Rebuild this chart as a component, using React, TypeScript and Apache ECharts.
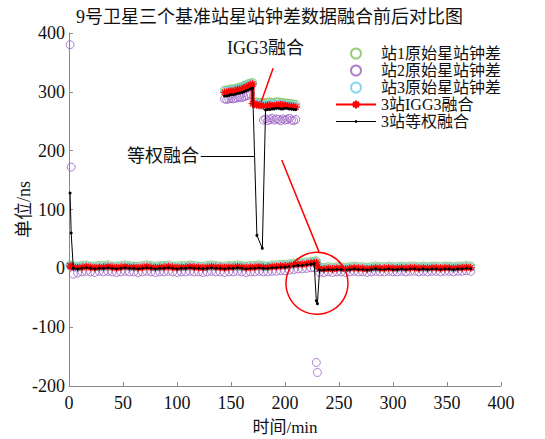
import React, { useEffect, useRef } from "react";
import * as echarts from "echarts";

// ---- data ----
const seriesNames = ["站1原始星站钟差", "站2原始星站钟差", "站3原始星站钟差", "3站IGG3融合", "3站等权融合"];
const xTicks = [0, 50, 100, 150, 200, 250, 300, 350, 400];
const yTicks = [-200, -100, 0, 100, 200, 300, 400];

const times = [
  1, 2, 4, 8, 12, 16, 20, 24, 28, 32,
  36, 40, 44, 48, 52, 56, 60, 64, 68, 72,
  76, 80, 84, 88, 92, 96, 100, 104, 108, 112,
  116, 120, 124, 128, 132, 136, 140, 144, 148, 152,
  156, 160, 164, 168, 172, 176, 180, 184, 188, 192,
  196, 200, 204, 208, 212, 216, 220, 224, 227, 229,
  230, 232, 236, 240, 244, 248, 252, 256, 260, 264,
  268, 272, 276, 280, 284, 288, 292, 296, 300, 304,
  308, 312, 316, 320, 324, 328, 332, 336, 340, 344,
  348, 352, 356, 360, 364, 368, 372,
];

const igg3 = [
  4, 3, 2, 1, 2, 3, 2, 1, 2, 2,
  3, 2, 1, 2, 3, 2, 2, 1, 2, 3,
  2, 1, 2, 2, 3, 2, 1, 2, 2, 3,
  2, 2, 1, 2, 3, 2, 2, 1, 2, 2,
  3, 2, 1, 2, 2, 3, 2, 2, 3, 3,
  4, 4, 5, 6, 7, 7, 8, 9, 9, 10,
  3, -1, -1, 0, -1, 0, 0, -1, 0, 1,
  0, 0, -1, 0, 1, 0, 0, 1, 0, 0,
  1, 0, 1, 1, 0, 1, 0, 1, 1, 0,
  1, 1, 0, 1, 1, 2, 1,
];

const equalW = [
  128, 60, 0, -1, 0, 1, 0, -1, 0, 0,
  1, 0, -1, 0, 1, 0, 0, -1, 0, 1,
  0, -1, 0, 0, 1, 0, -1, 0, 0, 1,
  0, 0, -1, 0, 1, 0, 0, -1, 0, 0,
  1, 0, -1, 0, 0, 1, 0, 0, 1, 1,
  2, 2, 3, 4, 5, 5, 6, 7, 8, -55,
  -60, -3, -3, -2, -3, -2, -2, -3, -2, -1,
  -2, -2, -3, -2, -1, -2, -2, -1, -2, -2,
  -1, -2, -1, -1, -2, -1, -2, -1, -1, -2,
  -1, -1, -2, -1, -1, 0, -1,
];

const st1 = [
  6, 5, 4, 4, 5, 6, 4, 4, 5, 5,
  6, 4, 4, 5, 6, 5, 4, 4, 5, 6,
  5, 4, 5, 5, 6, 4, 4, 5, 5, 6,
  5, 4, 4, 5, 6, 5, 4, 4, 5, 5,
  6, 5, 4, 5, 5, 6, 5, 4, 6, 6,
  7, 7, 8, 9, 10, 10, 11, 12, 12, 13,
  6, 2, 2, 3, 2, 3, 3, 2, 3, 4,
  3, 3, 2, 3, 4, 3, 3, 4, 3, 3,
  4, 3, 4, 4, 3, 4, 3, 4, 4, 3,
  4, 4, 3, 4, 4, 5, 4,
];

const st3 = [
  5, 4, 3, 2, 3, 4, 3, 2, 3, 3,
  4, 3, 2, 3, 4, 3, 3, 2, 3, 4,
  3, 2, 3, 3, 4, 3, 2, 3, 3, 4,
  3, 3, 2, 3, 4, 3, 3, 2, 3, 3,
  4, 3, 2, 3, 3, 4, 3, 3, 4, 4,
  5, 5, 6, 7, 8, 8, 9, 10, 10, 11,
  4, 0, 0, 1, 0, 1, 1, 0, 1, 2,
  1, 1, 0, 1, 2, 1, 1, 2, 1, 1,
  2, 1, 2, 2, 1, 2, 1, 2, 2, 1,
  2, 2, 1, 2, 2, 3, 2,
];

const st2 = [
  380, 172, -10, -8, -6, -5, -6, -7, -5, -6,
  -5, -6, -7, -6, -5, -6, -6, -7, -6, -5,
  -6, -7, -6, -6, -5, -6, -7, -6, -6, -5,
  -6, -6, -7, -6, -5, -6, -6, -7, -6, -6,
  -5, -6, -7, -6, -6, -5, -6, -6, -5, -5,
  -4, -4, -3, -2, -1, -1, 0, 1, 1, -160,
  -177, -7, -7, -6, -7, -6, -6, -7, -6, -5,
  -6, -6, -7, -6, -5, -6, -6, -5, -6, -6,
  -5, -6, -5, -5, -6, -5, -6, -5, -5, -6,
  -5, -5, -6, -5, -5, -4, -5,
];

// ---- magnified inset (drawn in the same axes) ----
const insetTimesA = [144, 146, 148, 150, 152, 154, 156, 158, 160, 162, 164, 166, 168, 170];
const insetTimesB = [172, 174, 176, 178, 180, 182, 184, 186, 188, 190, 192, 194, 196, 198, 200, 202, 204, 206, 208, 210];
const st2InsetTimesA = [144, 146, 148, 150, 152, 154, 156, 158, 160, 162, 164, 166, 168];
const st2InsetTimesB = [180, 182, 184, 186, 188, 190, 192, 194, 196, 198, 200, 202, 204, 206, 208, 210];

const st1InsetA = [303, 303, 304, 305, 305, 306, 307, 308, 309, 311, 312, 314, 315, 316];
const st1InsetB = [282, 283, 282, 282, 281, 282, 282, 283, 282, 282, 283, 283, 282, 282, 281, 281, 280, 280, 279, 279];
const st3InsetA = [301, 301, 302, 303, 303, 304, 305, 306, 307, 309, 310, 312, 313, 314];
const st3InsetB = [280, 280, 279, 279, 278, 278, 278, 279, 279, 278, 278, 279, 279, 279, 278, 278, 277, 277, 276, 276];
const st2InsetA = [288, 287, 288, 289, 288, 289, 290, 291, 290, 292, 293, 294, 296];
const st2InsetB = [252, 254, 251, 253, 255, 252, 254, 253, 251, 254, 252, 253, 255, 252, 251, 253];

const igg3InsetTimes = [144, 146, 148, 150, 152, 154, 156, 158, 160, 162, 164, 166, 168, 170,
  170, 172, 174, 176, 178, 180, 182, 184, 186, 188, 190, 192, 194, 196, 198, 200, 202, 204, 206, 208, 210];
const igg3Inset = [299, 299, 300, 301, 301, 302, 304, 304, 305, 307, 308, 310, 312, 313,
  280, 279, 278, 277, 277, 276, 276, 277, 277, 276, 276, 277, 277, 278, 277, 277, 276, 276, 275, 275, 274];

const eqInsetTimes = [144, 146, 148, 150, 152, 154, 156, 158, 160, 162, 164, 166, 168, 170,
  174, 179, 182, 184, 186, 188, 190, 192, 194, 196, 198, 200, 202, 204, 206, 208, 210];
const eqInset = [293, 293, 294, 295, 295, 296, 297, 298, 299, 300, 302, 303, 305, 306,
  56, 34, 269, 270, 270, 271, 271, 272, 272, 271, 271, 272, 272, 271, 271, 270, 270];

// annotation anchors (data coordinates)
const igg3Pointer = [[189, 340], [178, 283]];
const circlePointer = [[197, 184], [231.5, 28]];
const eqPointer = [[122, 190], [171.5, 190]];
const circleCenter = [229.6, -25.5];

const pairs = (xs: number[], ys: number[]) => xs.map((x, i) => [x, ys[i]]);

const FONT = "'Liberation Serif', 'Times New Roman', 'Noto Sans CJK SC', serif";
const C_GREEN = "#7cc35a";
const C_PURPLE = "#9a5cc2";
const C_CYAN = "#6fcdea";
const C_RED = "#ff0000";
const STAR = "path://M0,5L10,5M5,0L5,10M1.5,1.5L8.5,8.5M8.5,1.5L1.5,8.5";
const EQ_ICON = "path://M0,4.5L40,4.5L40,5.5L0,5.5Z M19,3.8L21,3.8L21,6.2L19,6.2Z";

export default function App() {
  const ref = useRef<HTMLDivElement>(null);
  useEffect(() => {
    if (!ref.current) return;
    const chart = echarts.init(ref.current, undefined, { renderer: "svg" });
    const circleStyle = (c: string) => ({ color: "transparent", borderColor: c, borderWidth: 1 });
    const scatter = (name: string, c: string, data: any[]) => ({
      name,
      type: "scatter",
      symbol: "circle",
      symbolSize: 8,
      itemStyle: circleStyle(c),
      data,
      z: 2,
    });
    chart.setOption({
      animation: false,
      textStyle: { fontFamily: FONT },
      title: {
        text: "9号卫星三个基准站星站钟差数据融合前后对比图",
        left: 71,
        top: 3,
        textStyle: { fontFamily: FONT, fontSize: 18, fontWeight: "normal", color: "#111" },
      },
      legend: {
        orient: "vertical",
        left: 335,
        top: 45,
        itemWidth: 40,
        itemHeight: 10,
        itemGap: 0,
        padding: 0,
        data: [
          seriesNames[0],
          seriesNames[1],
          seriesNames[2],
          seriesNames[3],
          { name: seriesNames[4], icon: EQ_ICON },
        ],
        textStyle: { fontFamily: FONT, fontSize: 16, color: "#111", lineHeight: 17, height: 17 },
      },
      grid: { left: 69, right: 44, top: 33, bottom: 53, outerBoundsMode: "none", containLabel: false },
      xAxis: {
        type: "value",
        min: 0,
        max: 400,
        interval: 50,
        name: "时间/min",
        nameLocation: "middle",
        nameGap: 33,
        nameMoveOverlap: false,
        nameTextStyle: { fontFamily: FONT, fontSize: 17, color: "#111" },
        axisLine: { onZero: false, lineStyle: { color: "#888" } },
        axisTick: { inside: true, length: 4, lineStyle: { color: "#888" } },
        axisLabel: { fontFamily: FONT, fontSize: 18, color: "#111", margin: 8,
          formatter: (v: number) => (xTicks.includes(v) ? String(v) : "") },
        splitLine: { show: false },
      },
      yAxis: {
        type: "value",
        min: -200,
        max: 400,
        interval: 100,
        name: "单位/ns",
        nameLocation: "middle",
        nameGap: 36,
        nameMoveOverlap: false,
        nameTextStyle: { fontFamily: FONT, fontSize: 18, color: "#111" },
        axisLine: { show: true, onZero: false, lineStyle: { color: "#888" } },
        axisTick: { show: true, inside: true, length: 4, lineStyle: { color: "#888" } },
        axisLabel: { fontFamily: FONT, fontSize: 18, color: "#111", margin: 4,
          formatter: (v: number) => (yTicks.includes(v) ? String(v) : "") },
        splitLine: { show: false },
      },
      graphic: [
        { type: "text", left: 227, top: 39, style: { text: "IGG3融合", font: `18px ${FONT}`, fill: "#111" } },
        { type: "text", left: 127, top: 147, style: { text: "等权融合", font: `18px ${FONT}`, fill: "#111" } },
      ],
      series: [
        scatter(seriesNames[0], C_GREEN, [...pairs(times, st1), ...pairs(insetTimesA, st1InsetA), ...pairs(insetTimesB, st1InsetB)]),
        scatter(seriesNames[1], C_PURPLE, [...pairs(times, st2), ...pairs(st2InsetTimesA, st2InsetA), ...pairs(st2InsetTimesB, st2InsetB)]),
        scatter(seriesNames[2], C_CYAN, [...pairs(times, st3), ...pairs(insetTimesA, st3InsetA), ...pairs(insetTimesB, st3InsetB)]),
        {
          name: seriesNames[3],
          type: "line",
          data: pairs(times, igg3),
          symbol: STAR,
          symbolSize: 8,
          showAllSymbol: true,
          lineStyle: { color: C_RED, width: 4 },
          itemStyle: { color: C_RED, borderColor: C_RED, borderWidth: 1.2 },
          z: 3,
        },
        {
          name: seriesNames[3],
          type: "line",
          data: pairs(igg3InsetTimes, igg3Inset),
          symbol: STAR,
          symbolSize: 8,
          showAllSymbol: true,
          lineStyle: { color: C_RED, width: 4 },
          itemStyle: { color: C_RED, borderColor: C_RED, borderWidth: 1.2 },
          z: 3,
        },
        {
          name: seriesNames[4],
          type: "line",
          data: pairs(times, equalW),
          symbol: "circle",
          symbolSize: 3,
          showAllSymbol: true,
          lineStyle: { color: "#000", width: 1 },
          itemStyle: { color: "#000" },
          z: 4,
        },
        {
          name: seriesNames[4],
          type: "line",
          data: pairs(eqInsetTimes, eqInset),
          symbol: "circle",
          symbolSize: 3,
          showAllSymbol: true,
          lineStyle: { color: "#000", width: 1 },
          itemStyle: { color: "#000" },
          z: 4,
          markLine: {
            silent: true,
            symbol: ["none", "none"],
            label: { show: false },
            data: [
              [{ coord: igg3Pointer[0], lineStyle: { color: C_RED, width: 1.5, type: "solid" } }, { coord: igg3Pointer[1] }],
              [{ coord: circlePointer[0], lineStyle: { color: C_RED, width: 1.5, type: "solid" } }, { coord: circlePointer[1] }],
              [{ coord: eqPointer[0], lineStyle: { color: "#000", width: 1, type: "solid" } }, { coord: eqPointer[1] }],
            ],
          },
          markPoint: {
            silent: true,
            label: { show: false },
            data: [
              {
                coord: circleCenter,
                symbol: "circle",
                symbolSize: 62,
                itemStyle: { color: "transparent", borderColor: C_RED, borderWidth: 1.5 },
              },
            ],
          },
        },
      ],
    });
    return () => chart.dispose();
  }, []);
  return <div ref={ref} style={{ width: 545, height: 439, position: "absolute", left: 0, top: 0 }} />;
}
